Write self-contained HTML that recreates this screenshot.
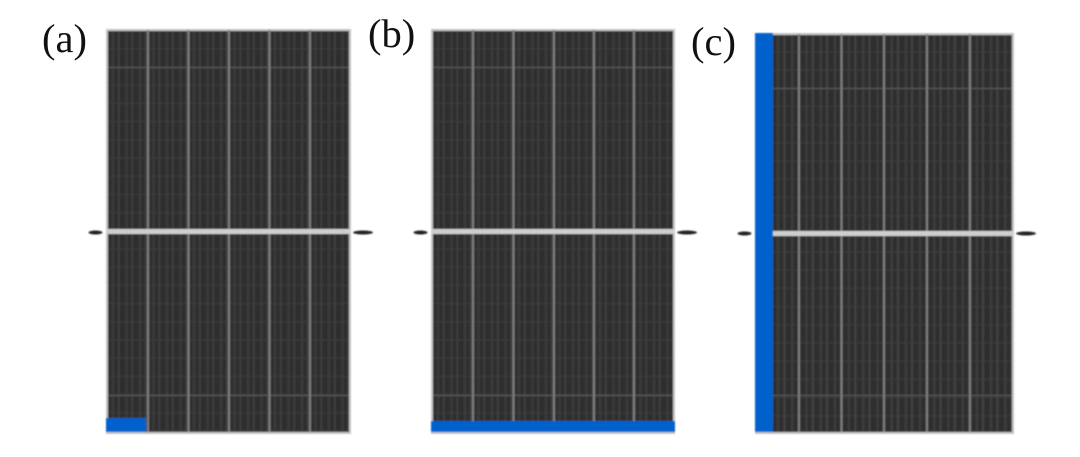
<!DOCTYPE html>
<html><head><meta charset="utf-8"><style>
html,body{margin:0;padding:0;background:#fff;width:1080px;height:457px;overflow:hidden}
svg{display:block}
text{font-family:"Liberation Serif",serif;font-size:40.5px;fill:#111}
</style></head><body>
<svg width="1080" height="457" viewBox="0 0 1080 457" xmlns="http://www.w3.org/2000/svg">
<defs>
<filter id="b" x="-5%" y="-5%" width="110%" height="110%"><feGaussianBlur stdDeviation="0.7"/></filter>
<pattern id="pa" width="13.5" height="18.2" patternUnits="userSpaceOnUse" x="108" y="31">
<rect width="13.5" height="18.2" fill="#2f2f2f"/>
<rect x="4" width="2" height="18.2" fill="#3a3a3a"/>
<rect x="10" width="1.6" height="18.2" fill="#404040"/>
<rect y="17.5" width="13.5" height="0.7" fill="#414141"/>
</pattern>
<pattern id="pb" width="13.5" height="18.2" patternUnits="userSpaceOnUse" x="433" y="31">
<rect width="13.5" height="18.2" fill="#2f2f2f"/>
<rect x="4" width="2" height="18.2" fill="#3a3a3a"/>
<rect x="10" width="1.6" height="18.2" fill="#404040"/>
<rect y="17.5" width="13.5" height="0.7" fill="#414141"/>
</pattern>
<pattern id="pc" width="14.2" height="18.2" patternUnits="userSpaceOnUse" x="773" y="34">
<rect width="14.2" height="18.2" fill="#2f2f2f"/>
<rect x="4" width="2.2" height="18.2" fill="#3c3c3c"/>
<rect x="10.5" width="1.8" height="18.2" fill="#454545"/>
<rect y="17.5" width="14.2" height="0.7" fill="#414141"/>
</pattern>
</defs>
<g filter="url(#b)">
<!-- Panel a -->
<rect x="106" y="29" width="245" height="405" fill="#c4c4c4"/>
<rect x="108" y="31" width="241" height="401" fill="url(#pa)"/>
<g fill="#5c5c5c">
<rect x="108" y="67" width="241" height="1"/><rect x="108" y="395" width="241" height="1"/>
</g>
<g fill="#7f7f7f">
<rect x="147" y="30" width="2" height="402"/><rect x="187.500" y="30" width="2" height="402"/><rect x="228" y="30" width="2" height="402"/><rect x="268.500" y="30" width="2" height="402"/><rect x="309" y="30" width="2" height="402"/>
</g>
<rect x="106" y="229" width="245" height="5" fill="#cfcfcf"/>
<ellipse cx="95.500" cy="232.500" rx="7" ry="2" fill="#222"/>
<ellipse cx="363" cy="232.500" rx="10" ry="2" fill="#222"/>
<rect x="106" y="418" width="40" height="14" fill="#0560cc"/>
<!-- Panel b -->
<rect x="431" y="29" width="244" height="405" fill="#c4c4c4"/>
<rect x="433" y="31" width="240" height="401" fill="url(#pb)"/>
<g fill="#5c5c5c">
<rect x="433" y="67" width="240" height="1"/><rect x="433" y="395" width="240" height="1"/>
</g>
<g fill="#7f7f7f">
<rect x="472" y="30" width="2" height="402"/><rect x="512.500" y="30" width="2" height="402"/><rect x="553" y="30" width="2" height="402"/><rect x="593" y="30" width="2" height="402"/><rect x="633" y="30" width="2" height="402"/>
</g>
<rect x="431" y="229" width="244" height="5" fill="#cfcfcf"/>
<ellipse cx="420.500" cy="232.500" rx="7" ry="2" fill="#222"/>
<ellipse cx="687" cy="232.500" rx="10" ry="2" fill="#222"/>
<rect x="431" y="421" width="244" height="11" fill="#0560cc"/>
<!-- Panel c -->
<rect x="755" y="33" width="259" height="401" fill="#c4c4c4"/>
<rect x="773" y="35" width="239" height="397" fill="url(#pc)"/>
<g fill="#5c5c5c">
<rect x="773" y="88" width="239" height="1"/><rect x="773" y="395" width="239" height="1"/>
</g>
<g fill="#7f7f7f">
<rect x="798" y="34" width="2" height="398"/><rect x="840.500" y="34" width="2" height="398"/><rect x="883" y="34" width="2" height="398"/><rect x="926" y="34" width="2" height="398"/><rect x="969" y="34" width="2" height="398"/>
</g>
<rect x="773" y="231" width="241" height="5" fill="#cfcfcf"/>
<ellipse cx="744.500" cy="233.500" rx="7" ry="2" fill="#222"/>
<ellipse cx="1026" cy="233.500" rx="10" ry="2" fill="#222"/>
<rect x="755" y="33" width="18" height="399" fill="#0560cc"/>
</g>
<text x="42" y="52">(a)</text>
<text x="368" y="47">(b)</text>
<text x="691" y="55">(c)</text>
</svg>
</body></html>
